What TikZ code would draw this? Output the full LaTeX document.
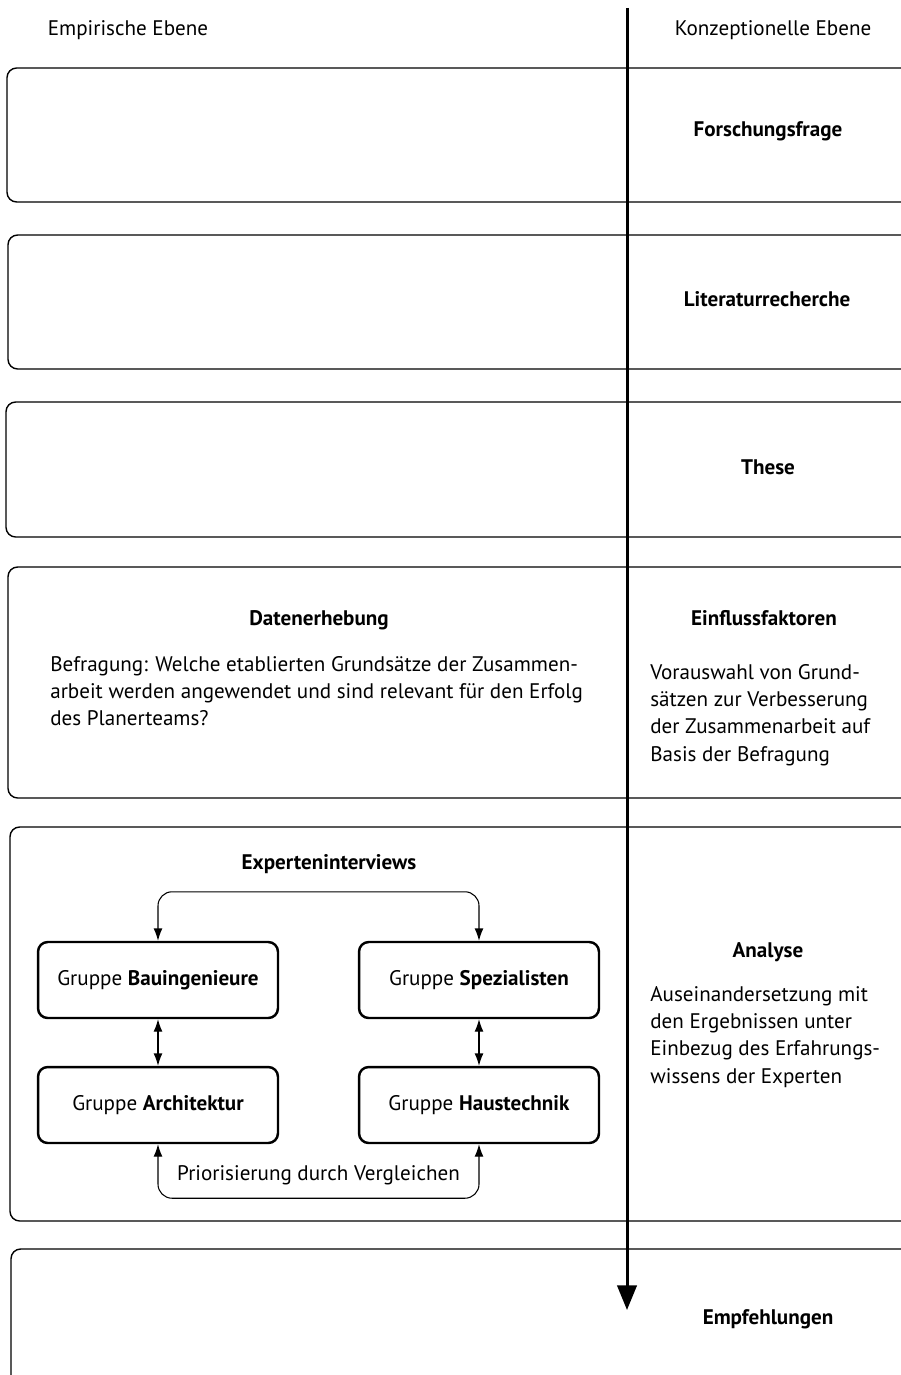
\documentclass[tikz,border=0pt]{standalone}
\usepackage{fontspec}
\setmainfont{PT Sans}
\usepackage{tikz}
\usetikzlibrary{arrows.meta}

\begin{document}
\begin{tikzpicture}[x=0.02cm, y=-0.02cm, font=\fontsize{12}{15.5}\selectfont,
  band/.style={draw, line width=0.8pt, rounded corners=5.5pt},
  titel/.style={font=\fontsize{12}{15.5}\selectfont\bfseries},
  gruppe/.style={draw, line width=1.4pt, rounded corners=5.5pt, minimum width=4.8cm, minimum height=1.52cm},
  pfeil/.style={line width=0.6pt, rounded corners=8pt, {Latex[length=7pt,width=5pt]}-{Latex[length=7pt,width=5pt]}},
  absatz/.style={anchor=north west, align=left, inner sep=0pt}]
\useasboundingbox (0,0) rectangle (901,1375);
\clip (0,0) rectangle (901,1375);
\node (emp) at (128,30) {Empirische Ebene};
\node (konz) at (773,30) {Konzeptionelle Ebene};
% Ebenen
\draw[band] (7,68) rectangle (940,202);
\draw[band] (8,235) rectangle (940,369);
\draw[band] (6,402) rectangle (940,537);
\draw[band] (8,567) rectangle (940,798);
\draw[band] (10,827) rectangle (940,1221);
\draw[band] (11,1249) rectangle (940,1440);
\node[titel] (frage) at (768,131) {Forschungsfrage};
\node[titel] (lit) at (767,299) {Literaturrecherche};
\node[titel] (these) at (768,467) {These};
\node[titel] (daten) at (319,620) {Datenerhebung};
\node[absatz] (befr) at (50,656) {Befragung: Welche etablierten Grundsätze der Zusammen-\\arbeit werden angewendet und sind relevant für den Erfolg\\des Planerteams?};
\node[titel] (einfl) at (764,618) {Einflussfaktoren};
\node[absatz] (vorausw) at (650,664) {Vorauswahl von Grund-\\sätzen zur Verbesserung\\der Zusammenarbeit auf\\Basis der Befragung};
\node[titel] (exp) at (329,864) {Experteninterviews};
\node[gruppe] (bau) at (158,980) {Gruppe \textbf{Bauingenieure}};
\node[gruppe] (spez) at (479,980) {Gruppe \textbf{Spezialisten}};
\node[gruppe] (arch) at (158,1105) {Gruppe \textbf{Architektur}};
\node[gruppe] (haus) at (479,1105) {Gruppe \textbf{Haustechnik}};
\draw[pfeil] (bau.north) -- ++(0,-49) -| (spez.north);
\draw[pfeil] (bau) -- (arch);
\draw[pfeil] (spez) -- (haus);
\draw[pfeil] (arch.south) -- ++(0,54) -| (haus.south) node[pos=0.25, above=4pt] {Priorisierung durch Vergleichen};
\node[titel] (analyse) at (768,952) {Analyse};
\node[absatz] (ausein) at (650,986) {Auseinandersetzung mit\\den Ergebnissen unter\\Einbezug des Erfahrungs-\\wissens der Experten};
\node[titel] (empf) at (768,1319) {Empfehlungen};
% Zeitachse
\coordinate (start) at (627,8);
\coordinate (ende) at (627,1310);
\draw[line width=1.7pt, -{Triangle[length=14pt,width=11pt]}] (start) -- (ende);
\end{tikzpicture}
\end{document}
